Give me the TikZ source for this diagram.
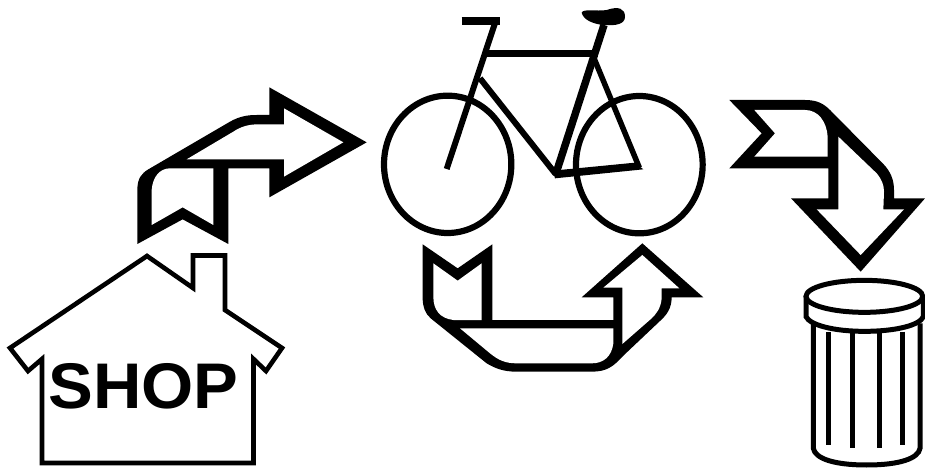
\documentclass[tikz,border=0pt]{standalone}
\usepackage{fontspec}
\setmainfont{Liberation Sans}
\tikzset{
  ink/.style={fill=black,draw=none},
  hole/.style={fill=white,draw=none},
  bar/.style={draw=black,line cap=butt,line join=miter},
  wheel/.style={draw=black,line width=6.2pt},
  zoomed/.style={x=0.33333pt,y=-0.33333pt},
}
\begin{document}
\begin{tikzpicture}[x=1pt,y=-1pt]
\useasboundingbox (0,0) rectangle (925,468);
% house
\draw[bar,line width=4.6pt] (147,256) -- (193,288) -- (193,255.5) -- (225,255.5) -- (225,310) -- (282,348) -- (266,371) -- (253.5,359) -- (253.5,463) -- (42,463) -- (42,359) -- (28,371) -- (10,348) -- cycle;
\node[font=\bfseries,inner sep=0pt,xscale=1.04] (shop) at (143.5,386.5) {\fontsize{64.5}{64.5}\selectfont SHOP};
% arrow from shop to bicycle
\begin{scope}[zoomed,shift={(0pt,-80pt)}]
\fill[ink] (412,492) -- (412,330) .. controls (412,295) and (425,280) .. (445,268) -- (690,125) .. controls (720,108) and (745,105) .. (770,105) -- (808,105) -- (808,22) -- (1100,187) -- (808,352) -- (808,265) -- (685,265) -- (685,492) -- (548,418) -- cycle;
\fill[hole] (560,238) -- (700,155) .. controls (725,138) and (750,133) .. (775,133) -- (852,133) -- (852,85) -- (1030,187) -- (852,290) -- (852,238) -- cycle;
\fill[hole] (455,435) -- (455,330) .. controls (458,290) and (480,265) .. (510,265) -- (640,265) -- (640,435) -- (548,382) -- cycle;
\end{scope}
% bicycle
\begin{scope}[zoomed,shift={(370pt,0pt)}]
\draw[wheel] (233,493) ellipse (191 and 206);
\draw[wheel] (808,494) ellipse (190 and 206);
\draw[bar,line width=6pt] (230,507) -- (378,60);
\draw[bar,line width=8pt] (275,62) -- (390,62);
\draw[bar,line width=7.5pt] (350,160) -- (685,160);
\draw[bar,line width=7.5pt] (558,520) -- (702,75);
\draw[bar,line width=6pt] (330,235) -- (557,522);
\draw[bar,line width=5.5pt] (668,165) -- (808,503);
\fill[ink] (548,512) -- (795,488) -- (820,508) -- (555,535) -- cycle;
\fill[ink] (635,38) .. controls (640,25) and (680,35) .. (710,30) .. controls (745,18) and (765,25) .. (765,50) .. controls (765,72) and (740,78) .. (700,75) .. controls (670,72) and (640,60) .. (635,38) -- cycle;
\end{scope}
% arrow from bicycle round to the bicycle
\begin{scope}[zoomed,shift={(410pt,-235pt)}]
\fill[ink] (38,28) -- (143,100) -- (247,28) -- (247,255) -- (610,255) -- (610,187) -- (515,187) -- (697,25) -- (880,187) -- (785,187) .. controls (785,220) and (770,240) .. (750,258) -- (640,362) .. controls (610,395) and (590,410) .. (545,410) -- (320,410) .. controls (280,410) and (255,400) .. (230,385) -- (62,250) .. controls (45,235) and (38,215) .. (38,190) -- cycle;
\fill[hole] (70,85) -- (143,137) -- (215,85) -- (215,255) -- (130,255) .. controls (90,250) and (70,225) .. (70,185) -- cycle;
\fill[hole] (150,280) -- (610,280) -- (610,325) .. controls (605,365) and (580,385) .. (545,385) -- (320,385) .. controls (285,385) and (265,375) .. (240,355) -- cycle;
\fill[hole] (580,158) -- (697,60) -- (808,160) -- (755,160) -- (755,190) .. controls (752,220) and (740,235) .. (725,250) -- (637,327) -- (637,158) -- cycle;
\end{scope}
% arrow from bicycle to bin
\begin{scope}[zoomed,shift={(720pt,-90pt)}]
\fill[ink] (28,30) -- (255,30) .. controls (290,30) and (310,40) .. (330,60) -- (490,222) .. controls (512,245) and (522,270) .. (522,300) -- (522,325) -- (615,325) -- (422,545) -- (213,325) -- (325,325) -- (325,235) -- (28,235) -- (125,130) -- cycle;
\fill[hole] (103,60) -- (255,60) .. controls (295,60) and (320,95) .. (323,140) -- (323,200) -- (103,200) -- (165,130) -- cycle;
\fill[hole] (355,140) -- (470,250) .. controls (485,268) and (492,285) .. (492,305) -- (490,358) -- (552,358) -- (422,495) -- (290,358) -- (355,358) -- cycle;
\end{scope}
% bin
\begin{scope}[zoomed,shift={(720pt,-90pt)},line width=5pt]
\draw[bar] (280,700) -- (280,1075) .. controls (285,1105) and (340,1125) .. (440,1125) .. controls (540,1125) and (595,1105) .. (600,1075) -- (600,700);
\draw[bar] (325,725) -- (325,1065);
\draw[bar] (397,730) -- (397,1075);
\draw[bar] (478,730) -- (478,1075);
\draw[bar] (548,725) -- (548,1065);
\fill[white] (258,620) -- (258,680) .. controls (270,705) and (340,724) .. (433,724) .. controls (530,724) and (600,705) .. (610,680) -- (610,620) -- cycle;
\draw[bar] (258,618) -- (258,680) .. controls (270,705) and (340,724) .. (433,724) .. controls (530,724) and (600,705) .. (610,680) -- (610,618);
\draw[draw=black,fill=white] (433,619) ellipse (175 and 48);
\end{scope}
\end{tikzpicture}
\end{document}
